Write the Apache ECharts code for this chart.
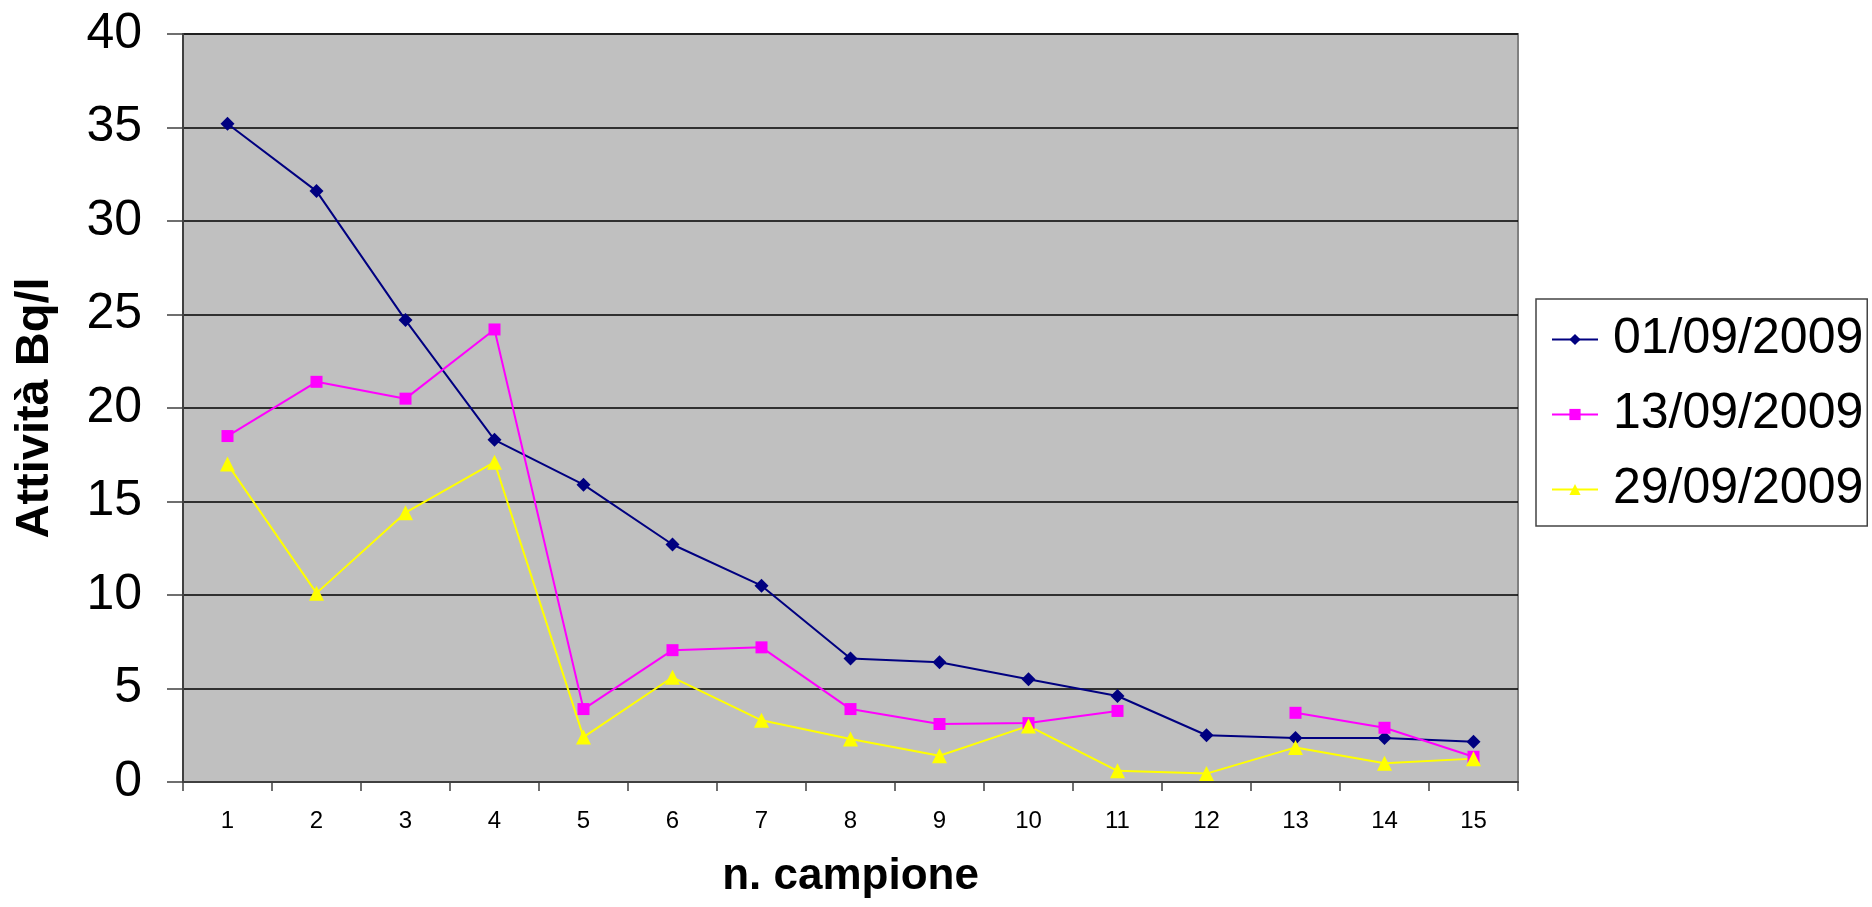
<!DOCTYPE html>
<html>
<head>
<meta charset="utf-8">
<script src="https://cdn.jsdelivr.net/npm/echarts@6/dist/echarts.min.js"></script>
<style>
html,body{margin:0;padding:0;background:#fff;}
#c{width:1872px;height:907px;}
</style>
</head>
<body>
<div id="c"></div>
<script>
const categories = ['1','2','3','4','5','6','7','8','9','10','11','12','13','14','15'];
const seriesNames = ['01/09/2009','13/09/2009','29/09/2009'];
const s0109 = [35.2, 31.6, 24.7, 18.3, 15.9, 12.7, 10.5, 6.6, 6.4, 5.5, 4.6, 2.5, 2.35, 2.35, 2.15];
const s1309 = [18.5, 21.4, 20.5, 24.2, 3.9, 7.05, 7.2, 3.9, 3.1, 3.15, 3.8, null, 3.7, 2.9, 1.35];
const s2909 = [17.0, 10.1, 14.4, 17.1, 2.4, 5.6, 3.3, 2.3, 1.4, 3.0, 0.6, 0.45, 1.85, 1.0, 1.25];
const yTicks = {min: 0, max: 40, interval: 5};

const FONT = '"Liberation Sans", Arial, sans-serif';
const chart = echarts.init(document.getElementById('c'), null, {renderer: 'canvas'});

function lineSeries(name, data, color, symbol, size) {
  return {
    name: name, type: 'line', data: data,
    symbol: symbol, symbolSize: size, showSymbol: true,
    connectNulls: false,
    lineStyle: {color: color, width: 2},
    itemStyle: {color: color, borderWidth: 0},
    emphasis: {disabled: true},
    animation: false
  };
}

chart.setOption({
  animation: false,
  backgroundColor: '#ffffff',
  grid: {
    left: 183, right: 354, top: 34, bottom: 125,
    show: true, backgroundColor: '#C0C0C0', borderColor: '#808080', borderWidth: 2
  },
  legend: {
    orient: 'vertical',
    left: 1536, top: 299,
    padding: [4, 4, 0, 15],
    itemGap: 2,
    itemWidth: 46, itemHeight: 14,
    backgroundColor: '#ffffff',
    borderColor: '#444444', borderWidth: 1.5,
    textStyle: {fontFamily: FONT, fontSize: 50, color: '#000', lineHeight: 73, padding: [0, 0, 0, 10]},
    data: seriesNames
  },
  xAxis: {
    type: 'category',
    data: categories,
    boundaryGap: true,
    name: 'n. campione',
    nameLocation: 'middle',
    nameGap: 73,
    nameTextStyle: {fontFamily: FONT, fontSize: 44, fontWeight: 'bold', color: '#000'},
    axisLine: {show: true, lineStyle: {color: '#404040', width: 2}},
    axisTick: {show: true, interval: 0, alignWithLabel: false, length: 9, inside: false, lineStyle: {color: '#404040', width: 1.5}},
    axisLabel: {interval: 0, margin: 27, fontFamily: FONT, fontSize: 24, color: '#000'},
    splitLine: {show: false}
  },
  yAxis: {
    type: 'value',
    min: yTicks.min, max: yTicks.max, interval: yTicks.interval,
    name: 'Attività Bq/l',
    nameLocation: 'middle',
    nameRotate: 90,
    nameGap: 124,
    nameTextStyle: {fontFamily: FONT, fontSize: 47, fontWeight: 'bold', color: '#000'},
    axisLine: {show: true, lineStyle: {color: '#404040', width: 2}},
    axisTick: {show: true, length: 16, inside: false, lineStyle: {color: '#404040', width: 1.5}},
    axisLabel: {margin: 41, fontFamily: FONT, fontSize: 50, color: '#000'},
    splitLine: {show: true, lineStyle: {color: '#000000', width: 1.5}}
  },
  series: [
    lineSeries(seriesNames[0], s0109, '#000080', 'diamond', 14),
    lineSeries(seriesNames[1], s1309, '#FF00FF', 'rect', 12),
    lineSeries(seriesNames[2], s2909, '#FFFF00', 'triangle', 15)
  ]
});
</script>
</body>
</html>
